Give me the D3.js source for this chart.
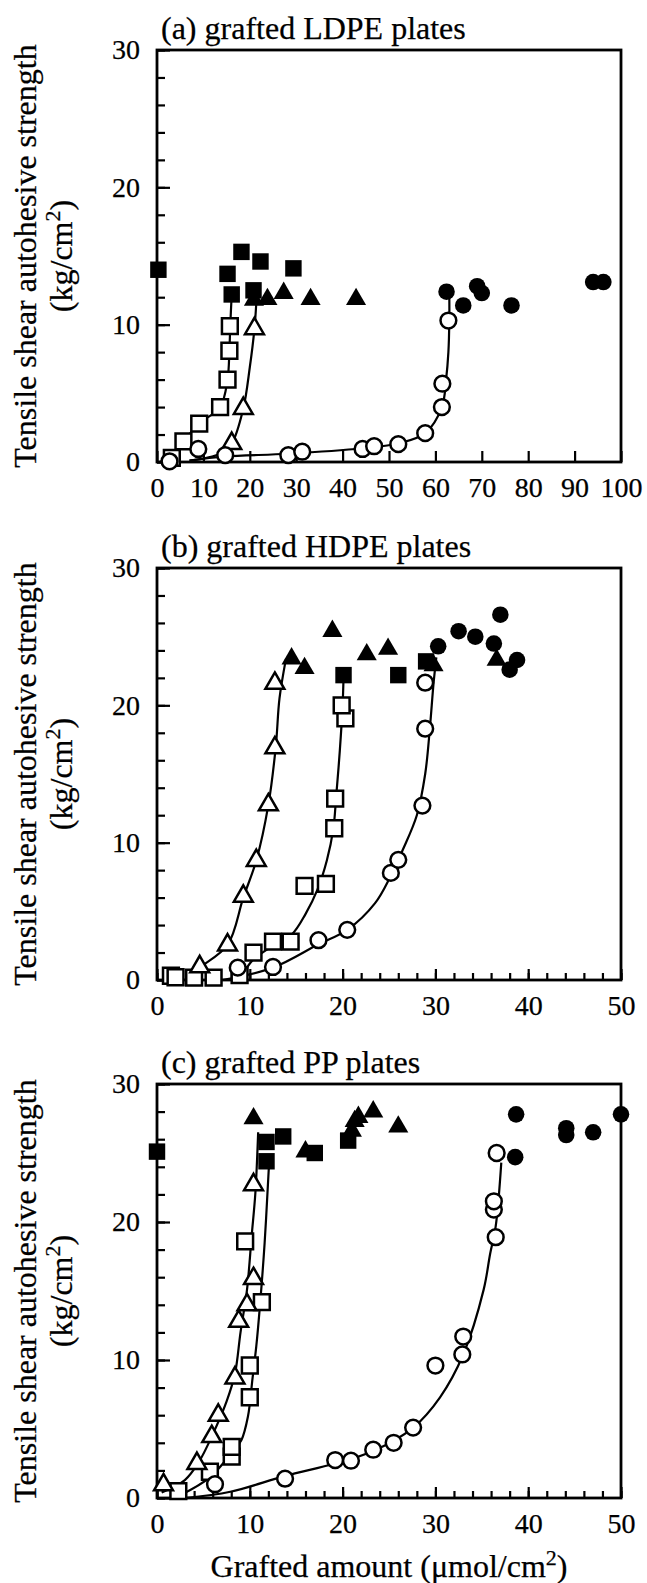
<!DOCTYPE html>
<html>
<head>
<meta charset="utf-8">
<script src="https://cdn.jsdelivr.net/npm/d3@7"></script>
<style>
  body { margin: 0; background: #fff; }
  svg text { font-family: "Liberation Serif", "DejaVu Serif", serif; fill: #000; stroke: #000; stroke-width: 0.25px; }
</style>
</head>
<body>
<div id="chart"></div>
<script>
// ---- data: [grafted amount, strength] ----
// (a) LDPE
const aOpenSquare = [[3.2,0.3],[5.7,1.5],[9.1,2.8],[13.6,4.0],[15.2,6.0],[15.6,8.1],[15.7,9.9]];
const aFilledSquare = [[0.3,14.0],[15.2,13.7],[18.2,15.3],[22.3,14.6],[29.4,14.1],[16.1,12.2],[20.8,12.5]];
const aOpenTriangle = [[16.1,1.35],[18.6,3.9],[21.0,9.7]];
const aFilledTriangle = [[20.9,11.8],[23.8,11.85],[27.3,12.3],[33.1,11.85],[42.9,11.85]];
const aOpenCircle = [[2.7,0.05],[8.9,0.95],[14.7,0.5],[28.3,0.5],[31.3,0.75],[44.3,0.95],[46.8,1.15],[52.0,1.3],[57.8,2.1],[61.4,4.0],[61.5,5.7],[62.8,10.3]];
const aFilledCircle = [[62.4,12.4],[66.0,11.4],[69.0,12.8],[70.0,12.3],[76.4,11.4],[94.0,13.1],[96.2,13.1]];
const aFitSquare = [[0.5,0],[3.2,0.4],[5.7,1.5],[9.1,2.8],[13.6,4.0],[15.2,6.0],[15.6,8.1],[15.8,10],[16.1,12.2]];
const aFitTriangle = [[7,0.1],[13.6,0.6],[16.1,1.35],[18.6,3.9],[20.0,6.9],[21.0,9.7],[21.4,11.6]];
const aFitCircle = [[7,0.1],[14.7,0.4],[28.3,0.6],[44.3,1.0],[52,1.35],[57.8,2.1],[61.4,4.0],[62.3,6],[62.8,8],[63.0,10.3],[63.0,12]];

// (b) HDPE
const bOpenTriangle = [[4.6,0.97],[7.6,2.55],[9.3,6.1],[10.7,8.7],[12.0,12.75],[12.7,16.9],[12.7,21.6]];
const bFilledTriangle = [[14.5,23.4],[15.9,22.7],[18.9,25.4],[22.6,23.7],[24.9,24.1],[29.8,22.9],[36.6,23.3]];
const bOpenSquare = [[1.5,0.31],[2.0,0.2],[4.0,0.17],[6.1,0.17],[8.9,0.36],[10.4,2.0],[12.5,2.8],[14.4,2.8],[15.9,6.85],[18.2,7.0],[19.1,11.05],[19.2,13.2],[20.3,19.05],[19.9,20.0]];
const bFilledSquare = [[20.1,22.2],[26.0,22.2],[29.0,23.2]];
const bOpenCircle = [[8.7,0.9],[12.5,0.95],[17.4,2.9],[20.5,3.65],[25.2,7.8],[26.0,8.75],[28.6,12.7],[28.9,18.3],[28.9,21.65]];
const bFilledCircle = [[30.3,24.3],[32.5,25.4],[34.3,25.0],[37.0,26.6],[36.3,24.5],[38.8,23.3],[38.0,22.6]];
const bFitTriangle = [[3.0,0],[4.6,0.9],[7.6,2.55],[9.3,6.0],[10.7,8.7],[12.0,12.75],[12.8,17],[13.2,20.5],[13.9,23.4]];
const bFitSquare = [[7.5,0],[8.9,0.3],[10.4,1.5],[12.5,2.5],[14.5,3.3],[16.0,4.8],[17.3,6.6],[18.3,8.7],[19.0,11],[19.3,13.3],[19.7,16.7],[20,20],[20.1,22]];
const bFitCircle = [[7,0],[12.5,0.9],[17.4,2.6],[20.5,3.65],[23.5,5.6],[25.2,7.6],[26.5,9.5],[28.0,12],[28.9,15],[29.4,18.3],[29.8,21.6],[30.1,23.5]];

// (c) PP
const cOpenTriangle = [[0.7,0.95],[4.3,2.5],[5.9,4.45],[6.6,6.0],[8.4,8.7],[8.8,12.8],[9.7,14.0],[10.4,15.9],[10.4,22.7]];
const cFilledTriangle = [[10.4,27.5],[16.0,25.1],[21.0,26.6],[21.3,27.3],[21.7,27.6],[23.3,28.0],[26.0,26.9]];
const cOpenSquare = [[2.3,0.5],[5.7,1.9],[8.05,3.0],[8.05,3.7],[10.0,7.3],[10.0,9.6],[11.3,14.2],[9.5,18.6]];
const cFilledSquare = [[0,25.1],[11.8,25.8],[13.6,26.2],[11.8,24.4],[17.0,25.0],[20.6,25.9]];
const cOpenCircle = [[6.25,1.0],[13.8,1.4],[19.2,2.75],[20.9,2.7],[23.3,3.5],[25.5,4.0],[27.6,5.1],[30.0,9.6],[32.9,10.4],[33.0,11.7],[36.5,18.9],[36.3,20.9],[36.3,21.5],[36.6,25.0]];
const cFilledCircle = [[38.7,27.8],[38.6,24.7],[44.1,26.8],[44.1,26.3],[47.0,26.5],[50.0,27.8]];
const cFitTriangle = [[0.5,0.4],[3.0,1.3],[4.5,2.6],[6.0,4.6],[7.5,7.0],[8.4,9.0],[9.0,12.0],[9.7,15.1],[10.2,19],[10.6,22.1],[10.9,26.5]];
const cFitSquare = [[2.5,0.2],[5.7,1.5],[8.2,3.4],[9.1,4.2],[9.8,5.9],[10.3,8.7],[10.7,11],[11.1,14],[11.6,18.5],[12.0,23.3],[12.1,24.5]];
const cFitCircle = [[3,0],[7.9,0.45],[13.8,1.6],[19.2,2.5],[23.3,3.4],[27.6,5.1],[30.5,7.3],[33,10.4],[35.2,15.1],[35.9,17.7],[36.5,19.7],[37.1,24.3]];

// ---- axes ----
const yTicks = [0, 10, 20, 30];
const yMinorTicks = d3.range(0, 31, 2);
const xTicksA = [0, 10, 20, 30, 40, 50, 60, 70, 80, 90, 100];
const xTicksBC = [0, 10, 20, 30, 40, 50];
const xMinorTicksBC = d3.range(0, 51, 2);

const titles = ["(a) grafted LDPE plates", "(b) grafted HDPE plates", "(c) grafted PP plates"];

const W = 647, H = 1583;
const left = 157, right = 621;

const panels = [
  { title: titles[0], top: 50, bottom: 462, xmax: 100, xTicks: xTicksA, xMinor: [],
    fits: [aFitSquare, aFitTriangle, aFitCircle],
    open: { square: aOpenSquare, triangle: aOpenTriangle, circle: aOpenCircle },
    filled: { square: aFilledSquare, triangle: aFilledTriangle, circle: aFilledCircle } },
  { title: titles[1], top: 568, bottom: 980, xmax: 50, xTicks: xTicksBC, xMinor: xMinorTicksBC,
    fits: [bFitSquare, bFitTriangle, bFitCircle],
    open: { square: bOpenSquare, triangle: bOpenTriangle, circle: bOpenCircle },
    filled: { square: bFilledSquare, triangle: bFilledTriangle, circle: bFilledCircle } },
  { title: titles[2], top: 1084, bottom: 1498, xmax: 50, xTicks: xTicksBC, xMinor: xMinorTicksBC,
    fits: [cFitSquare, cFitTriangle, cFitCircle],
    open: { square: cOpenSquare, triangle: cOpenTriangle, circle: cOpenCircle },
    filled: { square: cFilledSquare, triangle: cFilledTriangle, circle: cFilledCircle } }
];

const svg = d3.select("#chart").append("svg")
    .attr("width", W)
    .attr("height", H);

const symbolType = { square: d3.symbolSquare, triangle: d3.symbolTriangle, circle: d3.symbolCircle };
const symbolSize = { square: 270, triangle: 175, circle: 215 };

panels.forEach(p => {
  const x = d3.scaleLinear().domain([0, p.xmax]).range([left, right]);
  const y = d3.scaleLinear().domain([0, 30]).range([p.bottom, p.top]);
  const g = svg.append("g");

  // minor ticks
  g.append("g")
      .attr("transform", `translate(${left},0)`)
      .call(d3.axisLeft(y).tickValues(yMinorTicks).tickSize(-8).tickFormat(""))
      .call(s => s.select(".domain").remove())
      .selectAll("line").attr("stroke-width", 2.2);
  if (p.xMinor.length) {
    g.append("g")
        .attr("transform", `translate(0,${p.bottom})`)
        .call(d3.axisBottom(x).tickValues(p.xMinor).tickSize(-7).tickFormat(""))
        .call(s => s.select(".domain").remove())
        .selectAll("line").attr("stroke-width", 2.2);
  }

  // major ticks + labels
  const ya = g.append("g")
      .attr("transform", `translate(${left},0)`)
      .call(d3.axisLeft(y).tickValues(yTicks).tickSize(-13).tickPadding(17))
      .call(s => s.select(".domain").remove());
  ya.selectAll("line").attr("stroke-width", 2.2);
  ya.attr("font-size", 28).attr("font-family", null);

  const xa = g.append("g")
      .attr("transform", `translate(0,${p.bottom})`)
      .call(d3.axisBottom(x).tickValues(p.xTicks).tickSize(-11).tickPadding(15))
      .call(s => s.select(".domain").remove());
  xa.selectAll("line").attr("stroke-width", 2.2);
  xa.attr("font-size", 28).attr("font-family", null);

  // frame
  g.append("rect")
      .attr("x", left).attr("y", p.top)
      .attr("width", right - left).attr("height", p.bottom - p.top)
      .attr("fill", "none").attr("stroke", "#000").attr("stroke-width", 2.8);

  // title
  g.append("text")
      .attr("x", left + 4).attr("y", p.top - 11)
      .attr("font-size", 32)
      .text(p.title);

  // y label
  const cy = (p.top + p.bottom) / 2;
  g.append("text")
      .attr("transform", `translate(36,${cy}) rotate(-90)`)
      .attr("text-anchor", "middle")
      .attr("font-size", 32)
      .text("Tensile shear autohesive strength");
  const unit = g.append("text")
      .attr("transform", `translate(72,${cy}) rotate(-90)`)
      .attr("text-anchor", "middle")
      .attr("font-size", 32);
  unit.append("tspan").text("(kg/cm");
  unit.append("tspan").attr("font-size", 22).attr("dy", -12).text("2");
  unit.append("tspan").attr("dy", 12).text(")");

  // fitted curves
  const line = d3.line()
      .x(d => x(d[0])).y(d => y(d[1]))
      .curve(d3.curveCatmullRom.alpha(0.5));
  g.selectAll(".fit")
    .data(p.fits)
    .enter().append("path")
      .attr("class", "fit")
      .attr("d", line)
      .attr("fill", "none")
      .attr("stroke", "#000")
      .attr("stroke-width", 2.2);

  // markers
  ["square", "triangle", "circle"].forEach(k => {
    g.selectAll(".open-" + k)
      .data(p.open[k])
      .enter().append("path")
        .attr("class", "open-" + k)
        .attr("transform", d => `translate(${x(d[0])},${y(d[1])})`)
        .attr("d", d3.symbol(symbolType[k], symbolSize[k] - 20))
        .attr("fill", "#fff")
        .attr("stroke", "#000")
        .attr("stroke-width", 2.5);
    g.selectAll(".filled-" + k)
      .data(p.filled[k])
      .enter().append("path")
        .attr("class", "filled-" + k)
        .attr("transform", d => `translate(${x(d[0])},${y(d[1])})`)
        .attr("d", d3.symbol(symbolType[k], symbolSize[k]))
        .attr("fill", "#000");
  });
});

// x-axis title
const xt = svg.append("text")
    .attr("x", (left + right) / 2).attr("y", 1577)
    .attr("text-anchor", "middle")
    .attr("font-size", 32);
xt.append("tspan").text("Grafted amount (\u03bcmol/cm");
xt.append("tspan").attr("font-size", 22).attr("dy", -12).text("2");
xt.append("tspan").attr("dy", 12).text(")");
</script>
</body>
</html>
